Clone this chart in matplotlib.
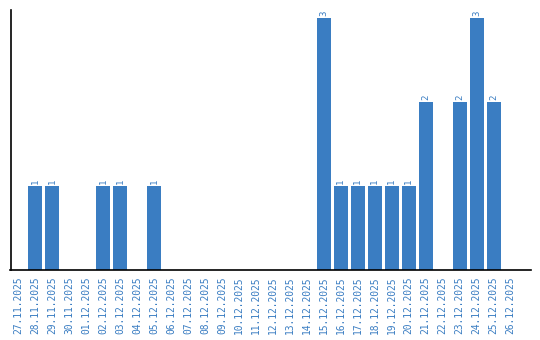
import matplotlib.pyplot as plt

dates = ["27.11.2025", "28.11.2025", "29.11.2025", "30.11.2025", "01.12.2025",
         "02.12.2025", "03.12.2025", "04.12.2025", "05.12.2025", "06.12.2025",
         "07.12.2025", "08.12.2025", "09.12.2025", "10.12.2025", "11.12.2025",
         "12.12.2025", "13.12.2025", "14.12.2025", "15.12.2025", "16.12.2025",
         "17.12.2025", "18.12.2025", "19.12.2025", "20.12.2025", "21.12.2025",
         "22.12.2025", "23.12.2025", "24.12.2025", "25.12.2025", "26.12.2025"]
counts = [0, 1, 1, 0, 0, 1, 1, 0, 1, 0, 0, 0, 0, 0, 0,
          0, 0, 0, 3, 1, 1, 1, 1, 1, 2, 0, 2, 3, 2, 0]

BLUE = "#3a7dc2"

fig = plt.figure(figsize=(5.4, 3.4), dpi=100)
ax = fig.add_axes([10.5 / 540, 1 - 270 / 340, (531 - 10.5) / 540, 260 / 340])

x = list(range(len(dates)))
ax.bar(x, counts, width=0.82, color=BLUE)

for i, c in enumerate(counts):
    if c > 0:
        ax.text(i, c + 0.03, str(c), rotation=90, ha="center", va="bottom",
                color=BLUE, fontsize=6.5, family="DejaVu Sans Mono")

ax.set_xlim(-0.45, 30.2)
ax.set_ylim(0, 3.1)
ax.set_xticks(x)
ax.set_xticklabels(dates, rotation=90, color=BLUE, fontsize=6.9,
                   family="DejaVu Sans Mono")
ax.tick_params(axis="x", length=0, pad=5)
ax.set_yticks([])
ax.spines["top"].set_visible(False)
ax.spines["right"].set_visible(False)
ax.spines["left"].set_linewidth(1.2)
ax.spines["bottom"].set_linewidth(1.2)

fig.savefig("out.png", dpi=100)
